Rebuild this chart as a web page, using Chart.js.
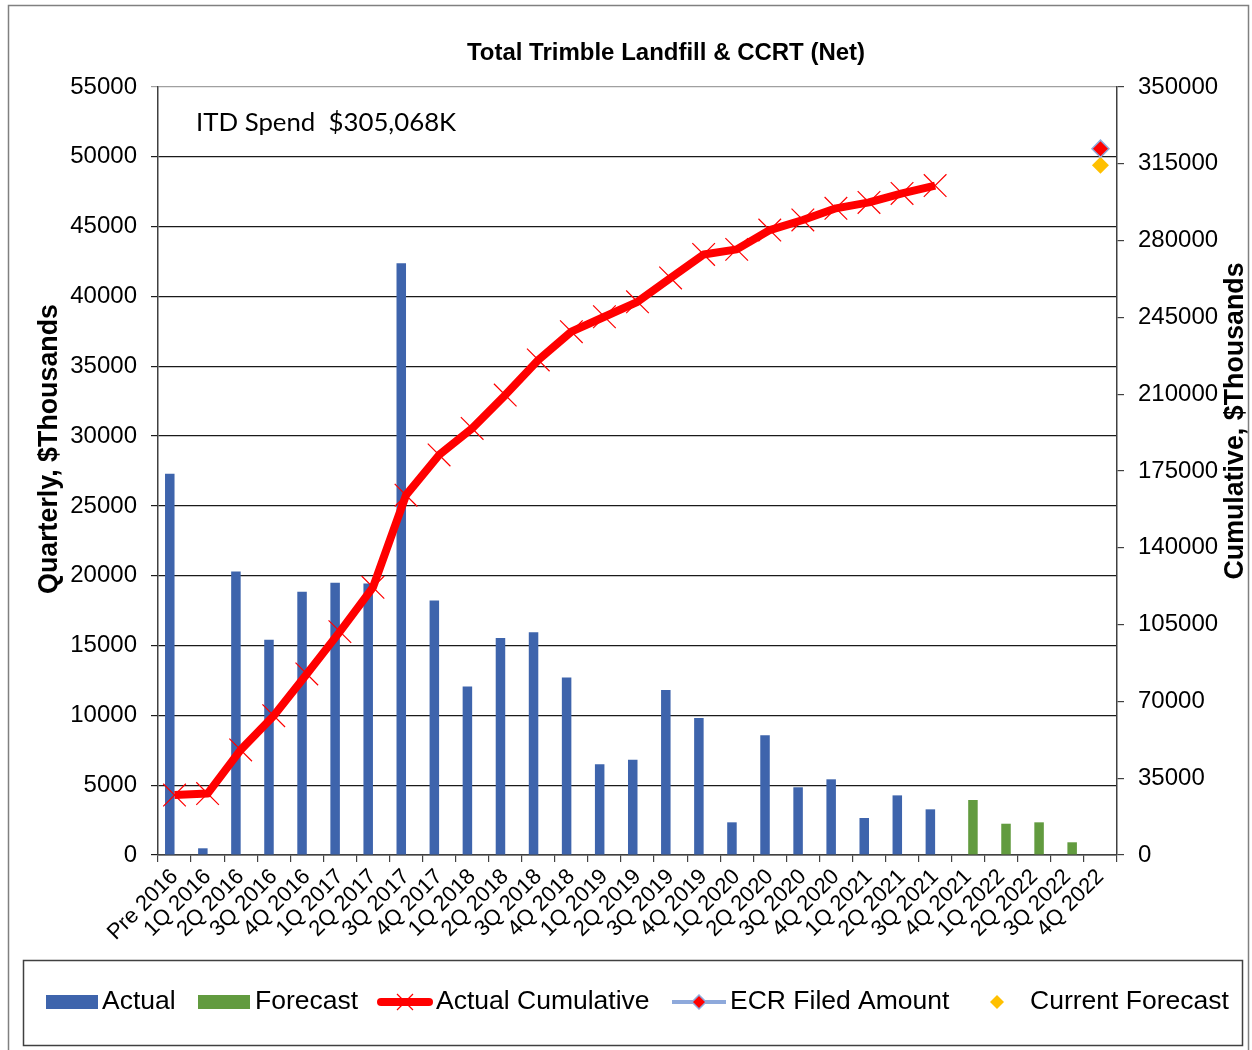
<!DOCTYPE html>
<html>
<head>
<meta charset="utf-8">
<script src="https://cdn.jsdelivr.net/npm/chart.js@4"></script>
<style>
  html, body { margin: 0; padding: 0; background: #fff; }
  #wrap { width: 1252px; height: 1050px; }
</style>
</head>
<body>
<div id="wrap"><canvas id="myChart" width="1252" height="1050"></canvas></div>
<script>
// data ($Thousands)
const categories = ['Pre 2016', '1Q 2016', '2Q 2016', '3Q 2016', '4Q 2016', '1Q 2017', '2Q 2017', '3Q 2017',
  '4Q 2017', '1Q 2018', '2Q 2018', '3Q 2018', '4Q 2018', '1Q 2019', '2Q 2019', '3Q 2019', '4Q 2019',
  '1Q 2020', '2Q 2020', '3Q 2020', '4Q 2020', '1Q 2021', '2Q 2021', '3Q 2021', '4Q 2021', '1Q 2022',
  '2Q 2022', '3Q 2022', '4Q 2022'];
const actual = [27300, 480, 20300, 15420, 18860, 19500, 19450, 42380, 18220, 12060, 15540, 15950, 12720,
  6500, 6830, 11820, 9810, 2340, 8570, 4850, 5420, 2650, 4270, 3270, null, null, null, null, null];
const forecast = [null, null, null, null, null, null, null, null, null, null, null, null, null, null, null,
  null, null, null, null, null, null, null, null, null, 3940, 2240, 2340, 910, null];
const actualCumulative = [27300, 28000, 47900, 63500, 82500, 101800, 122000, 164000, 182300, 194400, 209600,
  225600, 238500, 245300, 252100, 263000, 273700, 276000, 284800, 289400, 294700, 297400, 301500, 305068,
  null, null, null, null, null];
const ecrFiled = [null, null, null, null, null, null, null, null, null, null, null, null, null, null, null,
  null, null, null, null, null, null, null, null, null, null, null, null, null, 321900];
const currentForecast = [null, null, null, null, null, null, null, null, null, null, null, null, null, null, null,
  null, null, null, null, null, null, null, null, null, null, null, null, null, 314300];
const leftTicks = [0, 55000, 5000];     // min, max, step
const rightTicks = [0, 350000, 35000];
const itdText = 'ITD Spend  $305,068K';

const ARIAL = '"Liberation Sans", Arial, sans-serif';
const BLUE = '#3E64AC', GREEN = '#629B3F', RED = '#FF0000', YELLOW = '#FFC000', LBLUE = '#8EA9DB';

// fixed plot box
const PLOT = { left: 158, right: 1117, top: 87, bottom: 855 };

function diamond(ctx, x, y, r, fill, stroke) {
  ctx.beginPath();
  ctx.moveTo(x, y - r); ctx.lineTo(x + r, y); ctx.lineTo(x, y + r); ctx.lineTo(x - r, y); ctx.closePath();
  ctx.fillStyle = fill; ctx.fill();
  if (stroke) { ctx.strokeStyle = stroke; ctx.lineWidth = 1.5; ctx.stroke(); }
}

const decorations = {
  id: 'decorations',
  beforeDraw(chart) {
    const ctx = chart.ctx;
    ctx.save();
    ctx.fillStyle = '#fff';
    ctx.fillRect(0, 0, chart.width, chart.height);
    ctx.restore();
  },
  afterDraw(chart) {
    const ctx = chart.ctx;
    ctx.save();
    // outer frame
    ctx.strokeStyle = '#808080'; ctx.lineWidth = 1.5;
    ctx.strokeRect(8.5, 5.5, 1240, 1060);

    // title
    ctx.fillStyle = '#000';
    ctx.font = 'bold 24px ' + ARIAL;
    ctx.textAlign = 'center'; ctx.textBaseline = 'middle';
    ctx.fillText('Total Trimble Landfill & CCRT (Net)', 666, 53);

    // ITD note
    ctx.font = '25.8px Lato, "Open Sans", sans-serif';
    ctx.textAlign = 'left';
    ctx.fillText(itdText, 196, 123);

    // axis titles
    ctx.font = 'bold 26.8px ' + ARIAL;
    ctx.textAlign = 'center';
    ctx.save(); ctx.translate(50, 449); ctx.rotate(-Math.PI / 2);
    ctx.fillText('Quarterly, $Thousands', 0, 0); ctx.restore();
    ctx.save(); ctx.translate(1236, 421); ctx.rotate(-Math.PI / 2);
    ctx.fillText('Cumulative, $Thousands', 0, 0); ctx.restore();

    // legend
    ctx.strokeStyle = '#404040'; ctx.lineWidth = 1.5;
    ctx.strokeRect(23.5, 960.5, 1219, 85);
    const ly = 1002;
    ctx.font = '26.5px ' + ARIAL;
    ctx.textAlign = 'left'; ctx.textBaseline = 'middle';
    ctx.fillStyle = BLUE; ctx.fillRect(46, 995, 52, 14);
    ctx.fillStyle = '#000'; ctx.fillText('Actual', 102, ly);
    ctx.fillStyle = GREEN; ctx.fillRect(198, 995, 52, 14);
    ctx.fillStyle = '#000'; ctx.fillText('Forecast', 255, ly);
    ctx.strokeStyle = RED; ctx.lineWidth = 8; ctx.lineCap = 'round';
    ctx.beginPath(); ctx.moveTo(381, ly); ctx.lineTo(429, ly); ctx.stroke();
    ctx.lineWidth = 1.2; ctx.lineCap = 'butt';
    ctx.beginPath(); ctx.moveTo(397, ly - 8); ctx.lineTo(413, ly + 8);
    ctx.moveTo(413, ly - 8); ctx.lineTo(397, ly + 8); ctx.stroke();
    ctx.fillStyle = '#000'; ctx.fillText('Actual Cumulative', 436, ly);
    ctx.strokeStyle = LBLUE; ctx.lineWidth = 4;
    ctx.beginPath(); ctx.moveTo(672, ly); ctx.lineTo(726, ly); ctx.stroke();
    diamond(ctx, 699, ly, 7, RED, LBLUE);
    ctx.fillStyle = '#000'; ctx.fillText('ECR Filed Amount', 730, ly);
    diamond(ctx, 997, ly, 7, YELLOW, null);
    ctx.fillStyle = '#000'; ctx.fillText('Current Forecast', 1030, ly);
    ctx.restore();
  }
};

const plain = v => String(v);   // no thousands separators

const ctx = document.getElementById('myChart').getContext('2d');
const trimbleChart = new Chart(ctx, {
  type: 'bar',
  data: {
    labels: categories,
    datasets: [
      {
        type: 'line', label: 'ECR Filed Amount', data: ecrFiled, yAxisID: 'y1', order: 0,
        showLine: false, pointStyle: 'rectRot', pointRadius: 8.5, pointBackgroundColor: RED,
        pointBorderColor: LBLUE, pointBorderWidth: 1.5, borderColor: LBLUE
      },
      {
        type: 'line', label: 'Current Forecast', data: currentForecast, yAxisID: 'y1', order: 0,
        showLine: false, pointStyle: 'rectRot', pointRadius: 8.5, pointBackgroundColor: YELLOW,
        pointBorderColor: YELLOW, pointBorderWidth: 0, borderColor: YELLOW
      },
      {
        type: 'line', label: 'Actual Cumulative', data: actualCumulative, yAxisID: 'y1', order: 1,
        borderColor: RED, borderWidth: 8, borderJoinStyle: 'round', tension: 0,
        pointStyle: 'crossRot', pointRadius: 16, pointBorderColor: RED, pointBorderWidth: 1.2
      },
      {
        label: 'Actual', data: actual, yAxisID: 'y', order: 2,
        backgroundColor: BLUE, categoryPercentage: 0.575, barPercentage: 1
      },
      {
        label: 'Forecast', data: forecast, yAxisID: 'y', order: 2,
        backgroundColor: GREEN, categoryPercentage: 0.575, barPercentage: 1
      }
    ]
  },
  options: {
    responsive: false,
    animation: false,
    layout: { padding: { top: PLOT.top, left: 0, right: 0, bottom: 0 } },
    plugins: {
      legend: { display: false },
      title: { display: false },
      tooltip: { enabled: false }
    },
    scales: {
      x: {
        offset: true,
        afterFit(scale) { scale.height = 1050 - PLOT.bottom; },
        grid: { offset: true, drawOnChartArea: false, drawTicks: true, tickLength: 7, color: '#404040', lineWidth: 1.2 },
        border: { display: true, color: '#404040', width: 1.5 },
        ticks: {
          autoSkip: false, maxRotation: 45, minRotation: 45, padding: 2,
          color: '#000', font: { family: ARIAL, size: 22 }
        }
      },
      y: {
        position: 'left',
        min: leftTicks[0], max: leftTicks[1],
        afterFit(scale) { scale.width = PLOT.left; },
        ticks: { stepSize: leftTicks[2], padding: 14, color: '#000', font: { family: ARIAL, size: 24 }, callback: plain },
        grid: {
          tickLength: 7, lineWidth: 1.2,
          color: c => c.tick.value === leftTicks[1] ? '#a0a0a0' : '#1a1a1a'
        },
        border: { display: true, color: '#404040', width: 1.5 }
      },
      y1: {
        position: 'right',
        min: rightTicks[0], max: rightTicks[1],
        afterFit(scale) { scale.width = 1252 - PLOT.right; },
        ticks: { stepSize: rightTicks[2], padding: 14, color: '#000', font: { family: ARIAL, size: 24 }, callback: plain },
        grid: { drawOnChartArea: false, tickLength: 7, color: '#404040', lineWidth: 1.2 },
        border: { display: true, color: '#404040', width: 1.5 }
      }
    }
  },
  plugins: [decorations]
});
</script>
</body>
</html>
